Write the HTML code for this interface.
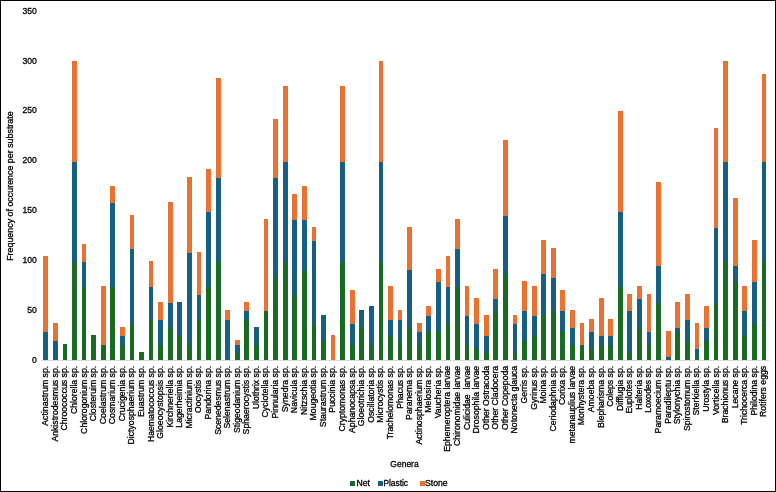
<!DOCTYPE html>
<html><head><meta charset="utf-8"><title>Frequency of occurence per substrate</title>
<style>
html,body{margin:0;padding:0;background:#fff;}
body{width:776px;height:492px;overflow:hidden;}
svg{display:block;font-family:"Liberation Sans", Arial, sans-serif;}
text{-webkit-font-smoothing:antialiased;stroke:#000;stroke-width:0.3px;paint-order:stroke;}
.gs{will-change:transform;}
</style></head>
<body>
<svg class="gs" width="776" height="492" viewBox="0 0 776 492">
<rect x="0" y="0" width="776" height="492" fill="#fff"/>
<g fill="#000" font-size="8.6">
<text x="36.9" y="362.88" text-anchor="end">0</text>
<text x="36.9" y="312.99" text-anchor="end">50</text>
<text x="36.9" y="263.09" text-anchor="end">100</text>
<text x="36.9" y="213.20" text-anchor="end">150</text>
<text x="36.9" y="163.30" text-anchor="end">200</text>
<text x="36.9" y="113.41" text-anchor="end">250</text>
<text x="36.9" y="63.51" text-anchor="end">300</text>
<text x="36.9" y="13.62" text-anchor="end">350</text>
</g>
<text transform="translate(13.0,186.1) rotate(-90)" text-anchor="middle" font-size="8.9" fill="#000">Frequency of occurence per substrate</text>
<line x1="41" y1="360.5" x2="769" y2="360.5" stroke="#d9d9d9" stroke-width="1"/>
<g>
<rect x="43" y="256" width="5" height="104" fill="#E97132"/>
<rect x="43" y="332" width="5" height="28" fill="#156082"/>
<rect x="53" y="323" width="5" height="37" fill="#E97132"/>
<rect x="53" y="341" width="5" height="19" fill="#156082"/>
<rect x="63" y="344" width="4" height="16" fill="#196B24"/>
<rect x="72" y="61" width="5" height="299" fill="#E97132"/>
<rect x="72" y="162" width="5" height="198" fill="#156082"/>
<rect x="72" y="262" width="5" height="98" fill="#196B24"/>
<rect x="82" y="244" width="4" height="116" fill="#E97132"/>
<rect x="82" y="262" width="4" height="98" fill="#156082"/>
<rect x="82" y="287" width="4" height="73" fill="#196B24"/>
<rect x="91" y="335" width="5" height="25" fill="#196B24"/>
<rect x="101" y="286" width="5" height="74" fill="#E97132"/>
<rect x="101" y="345" width="5" height="15" fill="#196B24"/>
<rect x="110" y="186" width="5" height="174" fill="#E97132"/>
<rect x="110" y="203" width="5" height="157" fill="#156082"/>
<rect x="110" y="287" width="5" height="73" fill="#196B24"/>
<rect x="120" y="327" width="5" height="33" fill="#E97132"/>
<rect x="120" y="336" width="5" height="24" fill="#156082"/>
<rect x="120" y="345" width="5" height="15" fill="#196B24"/>
<rect x="130" y="215" width="4" height="145" fill="#E97132"/>
<rect x="130" y="249" width="4" height="111" fill="#156082"/>
<rect x="130" y="324" width="4" height="36" fill="#196B24"/>
<rect x="139" y="352" width="5" height="8" fill="#196B24"/>
<rect x="149" y="261" width="4" height="99" fill="#E97132"/>
<rect x="149" y="287" width="4" height="73" fill="#156082"/>
<rect x="149" y="320" width="4" height="40" fill="#196B24"/>
<rect x="158" y="302" width="5" height="58" fill="#E97132"/>
<rect x="158" y="320" width="5" height="40" fill="#156082"/>
<rect x="158" y="345" width="5" height="15" fill="#196B24"/>
<rect x="168" y="202" width="5" height="158" fill="#E97132"/>
<rect x="168" y="303" width="5" height="57" fill="#156082"/>
<rect x="168" y="328" width="5" height="32" fill="#196B24"/>
<rect x="177" y="302" width="5" height="58" fill="#156082"/>
<rect x="177" y="336" width="5" height="24" fill="#196B24"/>
<rect x="187" y="177" width="5" height="183" fill="#E97132"/>
<rect x="187" y="253" width="5" height="107" fill="#156082"/>
<rect x="187" y="345" width="5" height="15" fill="#196B24"/>
<rect x="197" y="252" width="4" height="108" fill="#E97132"/>
<rect x="197" y="295" width="4" height="65" fill="#156082"/>
<rect x="197" y="320" width="4" height="40" fill="#196B24"/>
<rect x="206" y="169" width="5" height="191" fill="#E97132"/>
<rect x="206" y="212" width="5" height="148" fill="#156082"/>
<rect x="206" y="287" width="5" height="73" fill="#196B24"/>
<rect x="216" y="78" width="5" height="282" fill="#E97132"/>
<rect x="216" y="178" width="5" height="182" fill="#156082"/>
<rect x="216" y="262" width="5" height="98" fill="#196B24"/>
<rect x="225" y="310" width="5" height="50" fill="#E97132"/>
<rect x="225" y="320" width="5" height="40" fill="#156082"/>
<rect x="235" y="340" width="5" height="20" fill="#E97132"/>
<rect x="235" y="345" width="5" height="15" fill="#156082"/>
<rect x="235" y="353" width="5" height="7" fill="#196B24"/>
<rect x="244" y="302" width="5" height="58" fill="#E97132"/>
<rect x="244" y="311" width="5" height="49" fill="#156082"/>
<rect x="244" y="320" width="5" height="40" fill="#196B24"/>
<rect x="254" y="327" width="5" height="33" fill="#156082"/>
<rect x="254" y="345" width="5" height="15" fill="#196B24"/>
<rect x="264" y="219" width="4" height="141" fill="#E97132"/>
<rect x="264" y="311" width="4" height="49" fill="#196B24"/>
<rect x="273" y="119" width="5" height="241" fill="#E97132"/>
<rect x="273" y="178" width="5" height="182" fill="#156082"/>
<rect x="273" y="278" width="5" height="82" fill="#196B24"/>
<rect x="283" y="86" width="5" height="274" fill="#E97132"/>
<rect x="283" y="162" width="5" height="198" fill="#156082"/>
<rect x="283" y="262" width="5" height="98" fill="#196B24"/>
<rect x="292" y="194" width="5" height="166" fill="#E97132"/>
<rect x="292" y="220" width="5" height="140" fill="#156082"/>
<rect x="292" y="295" width="5" height="65" fill="#196B24"/>
<rect x="302" y="186" width="5" height="174" fill="#E97132"/>
<rect x="302" y="220" width="5" height="140" fill="#156082"/>
<rect x="302" y="270" width="5" height="90" fill="#196B24"/>
<rect x="312" y="227" width="4" height="133" fill="#E97132"/>
<rect x="312" y="241" width="4" height="119" fill="#156082"/>
<rect x="312" y="324" width="4" height="36" fill="#196B24"/>
<rect x="321" y="315" width="5" height="45" fill="#156082"/>
<rect x="321" y="341" width="5" height="19" fill="#196B24"/>
<rect x="331" y="335" width="4" height="25" fill="#E97132"/>
<rect x="340" y="86" width="5" height="274" fill="#E97132"/>
<rect x="340" y="162" width="5" height="198" fill="#156082"/>
<rect x="340" y="262" width="5" height="98" fill="#196B24"/>
<rect x="350" y="290" width="5" height="70" fill="#E97132"/>
<rect x="350" y="324" width="5" height="36" fill="#156082"/>
<rect x="350" y="345" width="5" height="15" fill="#196B24"/>
<rect x="359" y="310" width="5" height="50" fill="#156082"/>
<rect x="359" y="328" width="5" height="32" fill="#196B24"/>
<rect x="369" y="306" width="5" height="54" fill="#156082"/>
<rect x="369" y="345" width="5" height="15" fill="#196B24"/>
<rect x="379" y="61" width="4" height="299" fill="#E97132"/>
<rect x="379" y="162" width="4" height="198" fill="#156082"/>
<rect x="379" y="262" width="4" height="98" fill="#196B24"/>
<rect x="388" y="286" width="5" height="74" fill="#E97132"/>
<rect x="388" y="320" width="5" height="40" fill="#156082"/>
<rect x="388" y="336" width="5" height="24" fill="#196B24"/>
<rect x="398" y="310" width="4" height="50" fill="#E97132"/>
<rect x="398" y="320" width="4" height="40" fill="#156082"/>
<rect x="398" y="341" width="4" height="19" fill="#196B24"/>
<rect x="407" y="227" width="5" height="133" fill="#E97132"/>
<rect x="407" y="270" width="5" height="90" fill="#156082"/>
<rect x="407" y="328" width="5" height="32" fill="#196B24"/>
<rect x="417" y="323" width="5" height="37" fill="#E97132"/>
<rect x="417" y="332" width="5" height="28" fill="#156082"/>
<rect x="417" y="345" width="5" height="15" fill="#196B24"/>
<rect x="426" y="306" width="5" height="54" fill="#E97132"/>
<rect x="426" y="316" width="5" height="44" fill="#156082"/>
<rect x="426" y="332" width="5" height="28" fill="#196B24"/>
<rect x="436" y="269" width="5" height="91" fill="#E97132"/>
<rect x="436" y="282" width="5" height="78" fill="#156082"/>
<rect x="436" y="332" width="5" height="28" fill="#196B24"/>
<rect x="446" y="256" width="4" height="104" fill="#E97132"/>
<rect x="446" y="287" width="4" height="73" fill="#156082"/>
<rect x="446" y="324" width="4" height="36" fill="#196B24"/>
<rect x="455" y="219" width="5" height="141" fill="#E97132"/>
<rect x="455" y="249" width="5" height="111" fill="#156082"/>
<rect x="455" y="287" width="5" height="73" fill="#196B24"/>
<rect x="465" y="286" width="4" height="74" fill="#E97132"/>
<rect x="465" y="316" width="4" height="44" fill="#156082"/>
<rect x="465" y="345" width="4" height="15" fill="#196B24"/>
<rect x="474" y="298" width="5" height="62" fill="#E97132"/>
<rect x="474" y="324" width="5" height="36" fill="#156082"/>
<rect x="474" y="349" width="5" height="11" fill="#196B24"/>
<rect x="484" y="315" width="5" height="45" fill="#E97132"/>
<rect x="484" y="336" width="5" height="24" fill="#156082"/>
<rect x="484" y="353" width="5" height="7" fill="#196B24"/>
<rect x="493" y="269" width="5" height="91" fill="#E97132"/>
<rect x="493" y="299" width="5" height="61" fill="#156082"/>
<rect x="493" y="311" width="5" height="49" fill="#196B24"/>
<rect x="503" y="140" width="5" height="220" fill="#E97132"/>
<rect x="503" y="216" width="5" height="144" fill="#156082"/>
<rect x="503" y="274" width="5" height="86" fill="#196B24"/>
<rect x="513" y="315" width="4" height="45" fill="#E97132"/>
<rect x="513" y="324" width="4" height="36" fill="#156082"/>
<rect x="513" y="353" width="4" height="7" fill="#196B24"/>
<rect x="522" y="281" width="5" height="79" fill="#E97132"/>
<rect x="522" y="311" width="5" height="49" fill="#156082"/>
<rect x="522" y="341" width="5" height="19" fill="#196B24"/>
<rect x="532" y="286" width="5" height="74" fill="#E97132"/>
<rect x="532" y="316" width="5" height="44" fill="#156082"/>
<rect x="532" y="336" width="5" height="24" fill="#196B24"/>
<rect x="541" y="240" width="5" height="120" fill="#E97132"/>
<rect x="541" y="274" width="5" height="86" fill="#156082"/>
<rect x="541" y="316" width="5" height="44" fill="#196B24"/>
<rect x="551" y="248" width="5" height="112" fill="#E97132"/>
<rect x="551" y="278" width="5" height="82" fill="#156082"/>
<rect x="551" y="311" width="5" height="49" fill="#196B24"/>
<rect x="560" y="290" width="5" height="70" fill="#E97132"/>
<rect x="560" y="311" width="5" height="49" fill="#156082"/>
<rect x="560" y="332" width="5" height="28" fill="#196B24"/>
<rect x="570" y="310" width="5" height="50" fill="#E97132"/>
<rect x="570" y="328" width="5" height="32" fill="#156082"/>
<rect x="570" y="345" width="5" height="15" fill="#196B24"/>
<rect x="580" y="323" width="4" height="37" fill="#E97132"/>
<rect x="580" y="345" width="4" height="15" fill="#196B24"/>
<rect x="589" y="319" width="5" height="41" fill="#E97132"/>
<rect x="589" y="332" width="5" height="28" fill="#156082"/>
<rect x="589" y="349" width="5" height="11" fill="#196B24"/>
<rect x="599" y="298" width="5" height="62" fill="#E97132"/>
<rect x="599" y="336" width="5" height="24" fill="#156082"/>
<rect x="599" y="345" width="5" height="15" fill="#196B24"/>
<rect x="608" y="319" width="5" height="41" fill="#E97132"/>
<rect x="608" y="336" width="5" height="24" fill="#156082"/>
<rect x="608" y="345" width="5" height="15" fill="#196B24"/>
<rect x="618" y="111" width="5" height="249" fill="#E97132"/>
<rect x="618" y="212" width="5" height="148" fill="#156082"/>
<rect x="618" y="287" width="5" height="73" fill="#196B24"/>
<rect x="627" y="294" width="5" height="66" fill="#E97132"/>
<rect x="627" y="311" width="5" height="49" fill="#156082"/>
<rect x="627" y="353" width="5" height="7" fill="#196B24"/>
<rect x="637" y="286" width="5" height="74" fill="#E97132"/>
<rect x="637" y="299" width="5" height="61" fill="#156082"/>
<rect x="637" y="328" width="5" height="32" fill="#196B24"/>
<rect x="647" y="294" width="4" height="66" fill="#E97132"/>
<rect x="647" y="332" width="4" height="28" fill="#156082"/>
<rect x="647" y="345" width="4" height="15" fill="#196B24"/>
<rect x="656" y="182" width="5" height="178" fill="#E97132"/>
<rect x="656" y="266" width="5" height="94" fill="#156082"/>
<rect x="656" y="303" width="5" height="57" fill="#196B24"/>
<rect x="666" y="331" width="5" height="29" fill="#E97132"/>
<rect x="666" y="357" width="5" height="3" fill="#156082"/>
<rect x="675" y="302" width="5" height="58" fill="#E97132"/>
<rect x="675" y="328" width="5" height="32" fill="#156082"/>
<rect x="675" y="332" width="5" height="28" fill="#196B24"/>
<rect x="685" y="294" width="5" height="66" fill="#E97132"/>
<rect x="685" y="320" width="5" height="40" fill="#156082"/>
<rect x="685" y="341" width="5" height="19" fill="#196B24"/>
<rect x="695" y="323" width="4" height="37" fill="#E97132"/>
<rect x="695" y="349" width="4" height="11" fill="#156082"/>
<rect x="695" y="357" width="4" height="3" fill="#196B24"/>
<rect x="704" y="306" width="5" height="54" fill="#E97132"/>
<rect x="704" y="328" width="5" height="32" fill="#156082"/>
<rect x="704" y="341" width="5" height="19" fill="#196B24"/>
<rect x="714" y="128" width="4" height="232" fill="#E97132"/>
<rect x="714" y="228" width="4" height="132" fill="#156082"/>
<rect x="714" y="303" width="4" height="57" fill="#196B24"/>
<rect x="723" y="61" width="5" height="299" fill="#E97132"/>
<rect x="723" y="162" width="5" height="198" fill="#156082"/>
<rect x="723" y="262" width="5" height="98" fill="#196B24"/>
<rect x="733" y="198" width="5" height="162" fill="#E97132"/>
<rect x="733" y="266" width="5" height="94" fill="#156082"/>
<rect x="733" y="282" width="5" height="78" fill="#196B24"/>
<rect x="742" y="286" width="5" height="74" fill="#E97132"/>
<rect x="742" y="311" width="5" height="49" fill="#156082"/>
<rect x="742" y="336" width="5" height="24" fill="#196B24"/>
<rect x="752" y="240" width="5" height="120" fill="#E97132"/>
<rect x="752" y="282" width="5" height="78" fill="#156082"/>
<rect x="752" y="324" width="5" height="36" fill="#196B24"/>
<rect x="762" y="74" width="4" height="286" fill="#E97132"/>
<rect x="762" y="162" width="4" height="198" fill="#156082"/>
<rect x="762" y="262" width="4" height="98" fill="#196B24"/>
</g>
<g fill="#000" font-size="8.7">
<text transform="translate(48.23,365.8) rotate(-90)" text-anchor="end">Actinastrum sp.</text>
<text transform="translate(57.81,365.8) rotate(-90)" text-anchor="end">Ankistrodesmus sp.</text>
<text transform="translate(67.38,365.8) rotate(-90)" text-anchor="end">Chroococcus sp.</text>
<text transform="translate(76.96,365.8) rotate(-90)" text-anchor="end">Chlorella sp.</text>
<text transform="translate(86.53,365.8) rotate(-90)" text-anchor="end">Chlorogonium sp.</text>
<text transform="translate(96.11,365.8) rotate(-90)" text-anchor="end">Closteruim sp.</text>
<text transform="translate(105.68,365.8) rotate(-90)" text-anchor="end">Coelastrum sp.</text>
<text transform="translate(115.26,365.8) rotate(-90)" text-anchor="end">Cosmarium sp.</text>
<text transform="translate(124.83,365.8) rotate(-90)" text-anchor="end">Crucigenia sp.</text>
<text transform="translate(134.41,365.8) rotate(-90)" text-anchor="end">Dictyosphaerium sp.</text>
<text transform="translate(143.98,365.8) rotate(-90)" text-anchor="end">Euastrum sp.</text>
<text transform="translate(153.56,365.8) rotate(-90)" text-anchor="end">Haematococcus sp.</text>
<text transform="translate(163.13,365.8) rotate(-90)" text-anchor="end">Gloeocystopsis sp.</text>
<text transform="translate(172.71,365.8) rotate(-90)" text-anchor="end">Kirchneriella sp.</text>
<text transform="translate(182.29,365.8) rotate(-90)" text-anchor="end">Lagerheimia sp.</text>
<text transform="translate(191.86,365.8) rotate(-90)" text-anchor="end">Micractinium sp.</text>
<text transform="translate(201.44,365.8) rotate(-90)" text-anchor="end">Oocystis sp.</text>
<text transform="translate(211.01,365.8) rotate(-90)" text-anchor="end">Pandorina sp.</text>
<text transform="translate(220.59,365.8) rotate(-90)" text-anchor="end">Scenedesmus sp.</text>
<text transform="translate(230.16,365.8) rotate(-90)" text-anchor="end">Selenastrum sp.</text>
<text transform="translate(239.74,365.8) rotate(-90)" text-anchor="end">Stigeodanium sp.</text>
<text transform="translate(249.31,365.8) rotate(-90)" text-anchor="end">Sphaerocystis sp.</text>
<text transform="translate(258.89,365.8) rotate(-90)" text-anchor="end">Ulothrix sp.</text>
<text transform="translate(268.46,365.8) rotate(-90)" text-anchor="end">Cyclotella sp.</text>
<text transform="translate(278.04,365.8) rotate(-90)" text-anchor="end">Pinnularia sp.</text>
<text transform="translate(287.61,365.8) rotate(-90)" text-anchor="end">Synedra sp.</text>
<text transform="translate(297.19,365.8) rotate(-90)" text-anchor="end">Navicula sp.</text>
<text transform="translate(306.77,365.8) rotate(-90)" text-anchor="end">Nitzschia sp.</text>
<text transform="translate(316.34,365.8) rotate(-90)" text-anchor="end">Mougeotia sp.</text>
<text transform="translate(325.92,365.8) rotate(-90)" text-anchor="end">Staurastrum sp.</text>
<text transform="translate(335.49,365.8) rotate(-90)" text-anchor="end">Puccinia sp.</text>
<text transform="translate(345.07,365.8) rotate(-90)" text-anchor="end">Cryptomonas sp.</text>
<text transform="translate(354.64,365.8) rotate(-90)" text-anchor="end">Aphanocapsa sp.</text>
<text transform="translate(364.22,365.8) rotate(-90)" text-anchor="end">Gloeotrichia sp.</text>
<text transform="translate(373.79,365.8) rotate(-90)" text-anchor="end">Oscillatoria sp.</text>
<text transform="translate(383.37,365.8) rotate(-90)" text-anchor="end">Microcystis sp.</text>
<text transform="translate(392.94,365.8) rotate(-90)" text-anchor="end">Trachelomonas sp.</text>
<text transform="translate(402.52,365.8) rotate(-90)" text-anchor="end">Phacus sp.</text>
<text transform="translate(412.10,365.8) rotate(-90)" text-anchor="end">Paranema sp.</text>
<text transform="translate(421.67,365.8) rotate(-90)" text-anchor="end">Actinosphaerium sp.</text>
<text transform="translate(431.25,365.8) rotate(-90)" text-anchor="end">Melosira sp.</text>
<text transform="translate(440.82,365.8) rotate(-90)" text-anchor="end">Vaucheria sp.</text>
<text transform="translate(450.40,365.8) rotate(-90)" text-anchor="end">Ephemeroptera larvae</text>
<text transform="translate(459.97,365.8) rotate(-90)" text-anchor="end">Chironomidae larvae</text>
<text transform="translate(469.55,365.8) rotate(-90)" text-anchor="end">Culicidae  larvae</text>
<text transform="translate(479.12,365.8) rotate(-90)" text-anchor="end">Drosophila larvae</text>
<text transform="translate(488.70,365.8) rotate(-90)" text-anchor="end">Other Ostracoda</text>
<text transform="translate(498.27,365.8) rotate(-90)" text-anchor="end">Other Cladocera</text>
<text transform="translate(507.85,365.8) rotate(-90)" text-anchor="end">Other Copepoda</text>
<text transform="translate(517.42,365.8) rotate(-90)" text-anchor="end">Notonecta glauca</text>
<text transform="translate(527.00,365.8) rotate(-90)" text-anchor="end">Gerris sp.</text>
<text transform="translate(536.58,365.8) rotate(-90)" text-anchor="end">Gyrinus sp.</text>
<text transform="translate(546.15,365.8) rotate(-90)" text-anchor="end">Moina sp.</text>
<text transform="translate(555.73,365.8) rotate(-90)" text-anchor="end">Ceriodaphnia sp.</text>
<text transform="translate(565.30,365.8) rotate(-90)" text-anchor="end">Corixa sp.</text>
<text transform="translate(574.88,365.8) rotate(-90)" text-anchor="end">metanauplius larvae</text>
<text transform="translate(584.45,365.8) rotate(-90)" text-anchor="end">Monhystera sp.</text>
<text transform="translate(594.03,365.8) rotate(-90)" text-anchor="end">Amoeba sp.</text>
<text transform="translate(603.60,365.8) rotate(-90)" text-anchor="end">Blepharisma sp.</text>
<text transform="translate(613.18,365.8) rotate(-90)" text-anchor="end">Coleps sp.</text>
<text transform="translate(622.75,365.8) rotate(-90)" text-anchor="end">Difflugia sp.</text>
<text transform="translate(632.33,365.8) rotate(-90)" text-anchor="end">Euplotes sp.</text>
<text transform="translate(641.90,365.8) rotate(-90)" text-anchor="end">Halteria sp.</text>
<text transform="translate(651.48,365.8) rotate(-90)" text-anchor="end">Loxodes sp.</text>
<text transform="translate(661.06,365.8) rotate(-90)" text-anchor="end">Paramoecium sp.</text>
<text transform="translate(670.63,365.8) rotate(-90)" text-anchor="end">Paradileptu sp.</text>
<text transform="translate(680.21,365.8) rotate(-90)" text-anchor="end">Stylonychia sp.</text>
<text transform="translate(689.78,365.8) rotate(-90)" text-anchor="end">Spirostomum sp.</text>
<text transform="translate(699.36,365.8) rotate(-90)" text-anchor="end">Sterkiella sp.</text>
<text transform="translate(708.93,365.8) rotate(-90)" text-anchor="end">Urostyla sp.</text>
<text transform="translate(718.51,365.8) rotate(-90)" text-anchor="end">Vorticella sp.</text>
<text transform="translate(728.08,365.8) rotate(-90)" text-anchor="end">Brachionus sp.</text>
<text transform="translate(737.66,365.8) rotate(-90)" text-anchor="end">Lecane sp.</text>
<text transform="translate(747.23,365.8) rotate(-90)" text-anchor="end">Trichocerca sp.</text>
<text transform="translate(756.81,365.8) rotate(-90)" text-anchor="end">Philodina sp.</text>
<text transform="translate(766.38,365.8) rotate(-90)" text-anchor="end">Rotifers eggs</text>
</g>
<text x="404.5" y="467" text-anchor="middle" font-size="8.5" fill="#000">Genera</text>
<g font-size="8.7" fill="#000">
<rect x="350" y="481" width="5" height="5" fill="#196B24"/>
<text x="356.5" y="485.6">Net</text>
<rect x="378" y="481" width="5" height="5" fill="#156082"/>
<text x="383.4" y="485.6" font-size="8.4">Plastic</text>
<rect x="420" y="481" width="5" height="5" fill="#E97132"/>
<text x="425.0" y="485.6">Stone</text>
</g>
<rect x="0.5" y="0.5" width="775" height="491" fill="none" stroke="#000" stroke-width="1"/>
</svg>
</body></html>
